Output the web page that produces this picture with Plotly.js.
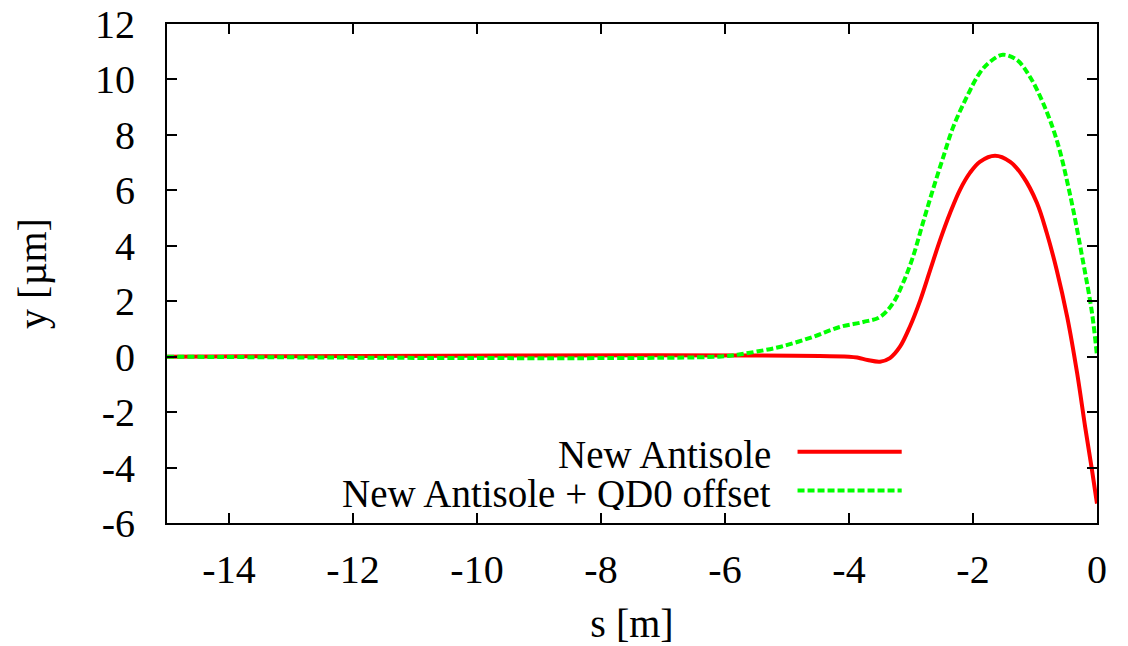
<!DOCTYPE html>
<html>
<head>
<meta charset="utf-8">
<script src="https://cdn.plot.ly/plotly-3.0.1.min.js"></script>
<style>html,body{margin:0;padding:0;background:#fff;}#chart{width:1128px;height:646px;}</style>
</head>
<body>
<div id="chart"></div>
<script>
// Series: New Antisole
const sRed = [-15, -4.0, -3.85, -3.7, -3.5, -3.34, -3.18, -3.02, -2.85, -2.69, -2.53, -2.37, -2.21, -2.05, -1.89, -1.645, -1.40, -1.19, -0.97, -0.81, -0.65, -0.48, -0.32, -0.19, -0.08, 0];
const yRed = [0, 0, -0.04, -0.12, -0.18, -0.05, 0.35, 1.07, 2.04, 3.13, 4.21, 5.18, 6.02, 6.63, 7.03, 7.25, 7.03, 6.49, 5.55, 4.46, 3.13, 1.43, -0.6, -2.55, -4.1, -5.3];
// Series: New Antisole + QD0 offset
const sGreen = [-15, -6.1, -5.8, -5.5, -5.1, -4.6, -4.15, -3.77, -3.5, -3.29, -3.13, -2.97, -2.81, -2.65, -2.48, -2.32, -2.10, -1.89, -1.73, -1.52, -1.29, -1.08, -0.87, -0.65, -0.44, -0.23, -0.08, 0];
const yGreen = [0, 0, 0.07, 0.18, 0.36, 0.7, 1.07, 1.25, 1.43, 1.93, 2.65, 3.59, 4.81, 6.0, 7.2, 8.28, 9.37, 10.24, 10.63, 10.89, 10.7, 10.09, 9.15, 7.82, 5.9, 3.49, 1.57, 0.02];
const seriesNames = ["New Antisole", "New Antisole + QD0 offset"];
const xTicks = [-14, -12, -10, -8, -6, -4, -2, 0];
const yTicks = [-6, -4, -2, 0, 2, 4, 6, 8, 10, 12];

const fam = '"Liberation Serif", "Times New Roman", serif';
function mkFont(sz) { return {family: fam, size: sz || 40, color: "#000"}; }

const traces = [
  {x: sRed, y: yRed, name: seriesNames[0], mode: "lines", line: {color: "#ff0000", width: 4, shape: "spline", smoothing: 1}},
  {x: sGreen, y: yGreen, name: seriesNames[1], mode: "lines", line: {color: "#00ff00", width: 4, dash: "7px,3px", shape: "spline", smoothing: 1}}
];

const layout = {
  width: 1128, height: 646,
  margin: {l: 167, r: 31, t: 24, b: 123},
  paper_bgcolor: "#fff", plot_bgcolor: "#fff",
  showlegend: false,
  font: mkFont(),
  xaxis: {
    range: [-15, 0], tickvals: xTicks, ticktext: xTicks.map(String),
    ticks: "inside", ticklen: 10, tickwidth: 2, tickcolor: "#000",
    showline: true, linecolor: "#000", linewidth: 2, mirror: "ticks",
    showgrid: false, zeroline: false, ticklabelstandoff: 10,
    tickfont: mkFont(),
    title: {text: "s [m]", font: mkFont(), standoff: 20}
  },
  yaxis: {
    range: [-6, 12], tickvals: yTicks, ticktext: yTicks.map(String),
    ticks: "inside", ticklen: 10, tickwidth: 2, tickcolor: "#000",
    showline: true, linecolor: "#000", linewidth: 2, mirror: "ticks",
    showgrid: false, zeroline: false, ticklabelstandoff: 22,
    tickfont: mkFont(),
    title: {text: "y [µm]", font: mkFont(), standoff: 36}
  },
  annotations: [
    {xref: "paper", yref: "paper", x: 0.6516, y: 0.139, xanchor: "right", yanchor: "middle", height: 34, valign: "middle", text: seriesNames[0], showarrow: false, font: mkFont(39)},
    {xref: "paper", yref: "paper", x: 0.6516, y: 0.061, xanchor: "right", yanchor: "middle", height: 34, valign: "middle", text: seriesNames[1], showarrow: false, font: mkFont(39)}
  ],
  shapes: [
    {type: "line", xref: "paper", yref: "paper", x0: 0.678, x1: 0.79, y0: 0.143, y1: 0.143, line: {color: "#ff0000", width: 4}},
    {type: "line", xref: "paper", yref: "paper", x0: 0.678, x1: 0.79, y0: 0.065, y1: 0.065, line: {color: "#00ff00", width: 4, dash: "7px,3px"}}
  ]
};

Plotly.newPlot("chart", traces, layout, {displayModeBar: false, staticPlot: true});
</script>
</body>
</html>
